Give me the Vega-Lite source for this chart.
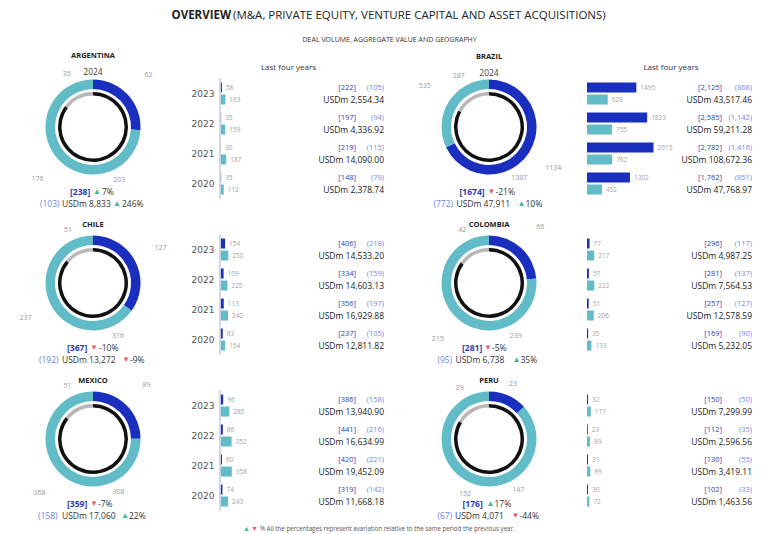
{
"$schema": "https://vega.github.io/schema/vega-lite/v6.json",
"background": "white",
"padding": 0,
"bounds": "flush",
"align": "each",
"columns": 4,
"spacing": 0,
"config": {"view": {"stroke": null}, "font": "Open Sans", "text": {"font": "Open Sans"}},
"datasets": {
"rings": [
{"country":"ARGENTINA","ring":"outer","seg":"o1","value":62},{"country":"ARGENTINA","ring":"outer","seg":"o2","value":176},{"country":"ARGENTINA","ring":"inner","seg":"i1","value":203},{"country":"ARGENTINA","ring":"inner","seg":"i2","value":35},
{"country":"BRAZIL","ring":"outer","seg":"o1","value":1134},{"country":"BRAZIL","ring":"outer","seg":"o2","value":535},{"country":"BRAZIL","ring":"inner","seg":"i1","value":1387},{"country":"BRAZIL","ring":"inner","seg":"i2","value":287},
{"country":"CHILE","ring":"outer","seg":"o1","value":127},{"country":"CHILE","ring":"outer","seg":"o2","value":237},{"country":"CHILE","ring":"inner","seg":"i1","value":316},{"country":"CHILE","ring":"inner","seg":"i2","value":51},
{"country":"COLOMBIA","ring":"outer","seg":"o1","value":66},{"country":"COLOMBIA","ring":"outer","seg":"o2","value":215},{"country":"COLOMBIA","ring":"inner","seg":"i1","value":239},{"country":"COLOMBIA","ring":"inner","seg":"i2","value":42},
{"country":"MEXICO","ring":"outer","seg":"o1","value":89},{"country":"MEXICO","ring":"outer","seg":"o2","value":268},{"country":"MEXICO","ring":"inner","seg":"i1","value":308},{"country":"MEXICO","ring":"inner","seg":"i2","value":51},
{"country":"PERU","ring":"outer","seg":"o1","value":23},{"country":"PERU","ring":"outer","seg":"o2","value":152},{"country":"PERU","ring":"inner","seg":"i1","value":147},{"country":"PERU","ring":"inner","seg":"i2","value":29}
],
"summary": [
{"country":"ARGENTINA","period":"2024","deals":"[238]","dealArrow":"▲","dealPct":"7%","cnt":"(103)","usd":"USDm 8,833","usdArrow":"▲","usdPct":"246%"},
{"country":"BRAZIL","period":"2024","deals":"[1674]","dealArrow":"▼","dealPct":"-21%","cnt":"(772)","usd":"USDm 47,911","usdArrow":"▲","usdPct":"10%"},
{"country":"CHILE","period":"2024","deals":"[367]","dealArrow":"▼","dealPct":"-10%","cnt":"(192)","usd":"USDm 13,272","usdArrow":"▼","usdPct":"-9%"},
{"country":"COLOMBIA","period":"2024","deals":"[281]","dealArrow":"▼","dealPct":"-5%","cnt":"(95)","usd":"USDm 6,738","usdArrow":"▲","usdPct":"35%"},
{"country":"MEXICO","period":"2024","deals":"[359]","dealArrow":"▼","dealPct":"-7%","cnt":"(158)","usd":"USDm 17,060","usdArrow":"▲","usdPct":"22%"},
{"country":"PERU","period":"2024","deals":"[176]","dealArrow":"▲","dealPct":"17%","cnt":"(67)","usd":"USDm 4,071","usdArrow":"▼","usdPct":"-44%"}
],
"bars": [
{"country":"ARGENTINA","year":"2023","series":"A","value":58},{"country":"ARGENTINA","year":"2023","series":"B","value":163},{"country":"ARGENTINA","year":"2022","series":"A","value":35},{"country":"ARGENTINA","year":"2022","series":"B","value":159},{"country":"ARGENTINA","year":"2021","series":"A","value":30},{"country":"ARGENTINA","year":"2021","series":"B","value":187},{"country":"ARGENTINA","year":"2020","series":"A","value":35},{"country":"ARGENTINA","year":"2020","series":"B","value":112},
{"country":"BRAZIL","year":"2023","series":"A","value":1495},{"country":"BRAZIL","year":"2023","series":"B","value":628},{"country":"BRAZIL","year":"2022","series":"A","value":1823},{"country":"BRAZIL","year":"2022","series":"B","value":755},{"country":"BRAZIL","year":"2021","series":"A","value":2015},{"country":"BRAZIL","year":"2021","series":"B","value":762},{"country":"BRAZIL","year":"2020","series":"A","value":1302},{"country":"BRAZIL","year":"2020","series":"B","value":452},
{"country":"CHILE","year":"2023","series":"A","value":154},{"country":"CHILE","year":"2023","series":"B","value":250},{"country":"CHILE","year":"2022","series":"A","value":109},{"country":"CHILE","year":"2022","series":"B","value":225},{"country":"CHILE","year":"2021","series":"A","value":113},{"country":"CHILE","year":"2021","series":"B","value":242},{"country":"CHILE","year":"2020","series":"A","value":83},{"country":"CHILE","year":"2020","series":"B","value":154},
{"country":"COLOMBIA","year":"2023","series":"A","value":77},{"country":"COLOMBIA","year":"2023","series":"B","value":217},{"country":"COLOMBIA","year":"2022","series":"A","value":57},{"country":"COLOMBIA","year":"2022","series":"B","value":222},{"country":"COLOMBIA","year":"2021","series":"A","value":51},{"country":"COLOMBIA","year":"2021","series":"B","value":206},{"country":"COLOMBIA","year":"2020","series":"A","value":35},{"country":"COLOMBIA","year":"2020","series":"B","value":133},
{"country":"MEXICO","year":"2023","series":"A","value":96},{"country":"MEXICO","year":"2023","series":"B","value":285},{"country":"MEXICO","year":"2022","series":"A","value":86},{"country":"MEXICO","year":"2022","series":"B","value":352},{"country":"MEXICO","year":"2021","series":"A","value":60},{"country":"MEXICO","year":"2021","series":"B","value":358},{"country":"MEXICO","year":"2020","series":"A","value":74},{"country":"MEXICO","year":"2020","series":"B","value":243},
{"country":"PERU","year":"2023","series":"A","value":32},{"country":"PERU","year":"2023","series":"B","value":117},{"country":"PERU","year":"2022","series":"A","value":23},{"country":"PERU","year":"2022","series":"B","value":89},{"country":"PERU","year":"2021","series":"A","value":31},{"country":"PERU","year":"2021","series":"B","value":99},{"country":"PERU","year":"2020","series":"A","value":30},{"country":"PERU","year":"2020","series":"B","value":72}
],
"yeartext": [
{"country":"ARGENTINA","year":"2023","deals":"[222]","cnt":"(105)","usd":"USDm 2,554.34"},{"country":"ARGENTINA","year":"2022","deals":"[197]","cnt":"(94)","usd":"USDm 4,336.92"},{"country":"ARGENTINA","year":"2021","deals":"[219]","cnt":"(115)","usd":"USDm 14,090.00"},{"country":"ARGENTINA","year":"2020","deals":"[148]","cnt":"(79)","usd":"USDm 2,378.74"},
{"country":"BRAZIL","year":"2023","deals":"[2,125]","cnt":"(868)","usd":"USDm 43,517.46"},{"country":"BRAZIL","year":"2022","deals":"[2,585]","cnt":"(1,142)","usd":"USDm 59,211.28"},{"country":"BRAZIL","year":"2021","deals":"[2,782]","cnt":"(1,416)","usd":"USDm 108,672.36"},{"country":"BRAZIL","year":"2020","deals":"[1,762]","cnt":"(851)","usd":"USDm 47,768.97"},
{"country":"CHILE","year":"2023","deals":"[406]","cnt":"(218)","usd":"USDm 14,533.20"},{"country":"CHILE","year":"2022","deals":"[334]","cnt":"(159)","usd":"USDm 14,603.13"},{"country":"CHILE","year":"2021","deals":"[356]","cnt":"(197)","usd":"USDm 16,929.88"},{"country":"CHILE","year":"2020","deals":"[237]","cnt":"(105)","usd":"USDm 12,811.82"},
{"country":"COLOMBIA","year":"2023","deals":"[296]","cnt":"(117)","usd":"USDm 4,987.25"},{"country":"COLOMBIA","year":"2022","deals":"[281]","cnt":"(137)","usd":"USDm 7,564.53"},{"country":"COLOMBIA","year":"2021","deals":"[257]","cnt":"(127)","usd":"USDm 12,578.59"},{"country":"COLOMBIA","year":"2020","deals":"[169]","cnt":"(90)","usd":"USDm 5,232.05"},
{"country":"MEXICO","year":"2023","deals":"[386]","cnt":"(158)","usd":"USDm 13,940.90"},{"country":"MEXICO","year":"2022","deals":"[441]","cnt":"(216)","usd":"USDm 16,634.99"},{"country":"MEXICO","year":"2021","deals":"[420]","cnt":"(221)","usd":"USDm 19,452.09"},{"country":"MEXICO","year":"2020","deals":"[319]","cnt":"(142)","usd":"USDm 11,668.18"},
{"country":"PERU","year":"2023","deals":"[150]","cnt":"(50)","usd":"USDm 7,299.99"},{"country":"PERU","year":"2022","deals":"[112]","cnt":"(35)","usd":"USDm 2,596.56"},{"country":"PERU","year":"2021","deals":"[130]","cnt":"(55)","usd":"USDm 3,419.11"},{"country":"PERU","year":"2020","deals":"[102]","cnt":"(33)","usd":"USDm 1,463.56"}
]
},
"concat": [
{"width":186,"height":49,
 "data":{"values":[{"a":"OVERVIEW","b":"(M&A, PRIVATE EQUITY, VENTURE CAPITAL AND ASSET ACQUISITIONS)","c":"DEAL VOLUME, AGGREGATE VALUE AND GEOGRAPHY"}]},
 "layer":[
  {"mark":{"type":"text","align":"right","dx":138,"dy":-8.5,"fontSize":11.5,"fontWeight":"bold","color":"#222222"},"encoding":{"text":{"field":"a"}}},
  {"mark":{"type":"text","align":"left","dx":140,"dy":-8.5,"fontSize":11.5,"color":"#222222"},"encoding":{"text":{"field":"b"}}},
  {"mark":{"type":"text","align":"center","dx":296.6,"dy":15.5,"fontSize":7,"color":"#333333"},"encoding":{"text":{"field":"c"}}}
 ]},
{"width":205,"height":49,"data":{"values":[]},"mark":"text","encoding":{}},
{"width":196,"height":49,"data":{"values":[]},"mark":"text","encoding":{}},
{"width":181,"height":49,"data":{"values":[]},"mark":"text","encoding":{}},

 {"width":186,"height":156,"resolve":{"scale":{"theta":"independent"}},
  "layer":[
   {"data":{"name":"rings"},"transform":[{"filter":"datum.country==='ARGENTINA' && datum.ring==='outer'"}],"mark":{"type":"arc","outerRadius":47.5,"innerRadius":38},"encoding":{"theta":{"field":"value","type":"quantitative","stack":true},"order":{"field":"seg","type":"ordinal"},"color":{"field":"seg","type":"nominal","scale":{"domain":["o1","o2","i1","i2","▲","▼"],"range":["#1b2fbf","#62bcc7","#111111","#b8b8b8","#3dbb8f","#ec5b76"]},"legend":null}}},
   {"data":{"name":"rings"},"transform":[{"filter":"datum.country==='ARGENTINA' && datum.ring==='inner'"}],"mark":{"type":"arc","outerRadius":35,"innerRadius":31.5},"encoding":{"theta":{"field":"value","type":"quantitative","stack":true},"order":{"field":"seg","type":"ordinal"},"color":{"field":"seg","type":"nominal","legend":null}}},
   {"data":{"name":"rings"},"transform":[{"filter":"datum.country==='ARGENTINA' && datum.ring==='outer'"}],"mark":{"type":"text","radius":76,"fontSize":7,"color":"#999999"},"encoding":{"theta":{"field":"value","type":"quantitative","stack":true},"order":{"field":"seg","type":"ordinal"},"detail":{"field":"seg"},"text":{"field":"value","type":"quantitative"}}},
   {"data":{"name":"rings"},"transform":[{"filter":"datum.country==='ARGENTINA' && datum.ring==='inner'"}],"mark":{"type":"text","radius":59,"fontSize":7,"color":"#999999"},"encoding":{"theta":{"field":"value","type":"quantitative","stack":true},"order":{"field":"seg","type":"ordinal"},"detail":{"field":"seg"},"text":{"field":"value","type":"quantitative"}}},
   {"data":{"name":"summary"},"transform":[{"filter":"datum.country==='ARGENTINA'"}],"mark":{"type":"text","dy":-71,"fontSize":7.5,"fontWeight":"bold","color":"#222222"},"encoding":{"text":{"field":"country"}}},
   {"data":{"name":"summary"},"transform":[{"filter":"datum.country==='ARGENTINA'"}],"mark":{"type":"text","dy":-55,"fontSize":8.5,"color":"#444444"},"encoding":{"text":{"field":"period"}}},
   {"data":{"name":"summary"},"transform":[{"filter":"datum.country==='ARGENTINA'"}],"mark":{"type":"text","align":"left","dx":-23,"dy":64.5,"fontSize":8.5,"fontWeight":"bold","color":"#2a3cae"},"encoding":{"text":{"field":"deals"}}},
   {"data":{"name":"summary"},"transform":[{"filter":"datum.country==='ARGENTINA'"}],"mark":{"type":"text","align":"left","dx":0,"dy":64.5,"fontSize":8},"encoding":{"text":{"field":"dealArrow"},"color":{"field":"dealArrow","type":"nominal","legend":null}}},
   {"data":{"name":"summary"},"transform":[{"filter":"datum.country==='ARGENTINA'"}],"mark":{"type":"text","align":"left","dx":9,"dy":64.5,"fontSize":8.5,"color":"#333333"},"encoding":{"text":{"field":"dealPct"}}},
   {"data":{"name":"summary"},"transform":[{"filter":"datum.country==='ARGENTINA'"}],"mark":{"type":"text","align":"left","dx":-53,"dy":77,"fontSize":8.5,"color":"#6d86e2"},"encoding":{"text":{"field":"cnt"}}},
   {"data":{"name":"summary"},"transform":[{"filter":"datum.country==='ARGENTINA'"}],"mark":{"type":"text","align":"left","dx":-31,"dy":77,"fontSize":8.5,"color":"#333333"},"encoding":{"text":{"field":"usd"}}},
   {"data":{"name":"summary"},"transform":[{"filter":"datum.country==='ARGENTINA'"}],"mark":{"type":"text","align":"left","dx":20,"dy":77,"fontSize":8},"encoding":{"text":{"field":"usdArrow"},"color":{"field":"usdArrow","type":"nominal","legend":null}}},
   {"data":{"name":"summary"},"transform":[{"filter":"datum.country==='ARGENTINA'"}],"mark":{"type":"text","align":"left","dx":29,"dy":77,"fontSize":8.5,"color":"#333333"},"encoding":{"text":{"field":"usdPct"}}}
  ]},
 {"width":205,"height":156,
  "layer":[
   {"data":{"name":"bars"},"transform":[{"filter":"datum.country==='ARGENTINA'"}],"mark":{"type":"bar"},"encoding":{"y":{"field":"year","type":"nominal","scale":{"domain":["2023","2022","2021","2020"],"paddingInner":0,"paddingOuter":0.6,"align":0.82},"axis":{"title":null,"domain":false,"ticks":false,"labelPadding":6,"offset":-34,"labelFont":"DejaVu Sans","labelFontSize":9,"labelColor":"#555555"}},"x":{"field":"value","type":"quantitative","scale":{"domain":[-1030,5182],"nice":false,"zero":false},"axis":null},"yOffset":{"field":"series","type":"nominal","scale":{"domain":["A","B"],"paddingInner":0.167,"paddingOuter":0.333}},"color":{"field":"series","type":"nominal","scale":{"domain":["A","B"],"range":["#1b2fbf","#62bcc7"]},"legend":null}}},
   {"data":{"name":"bars"},"transform":[{"filter":"datum.country==='ARGENTINA'"}],"mark":{"type":"text","align":"left","dx":4,"fontSize":6.5,"color":"#a3a3a3"},"encoding":{"y":{"field":"year","type":"nominal"},"x":{"field":"value","type":"quantitative"},"yOffset":{"field":"series","type":"nominal"},"text":{"field":"value","type":"quantitative"}}},
   {"data":{"name":"yeartext"},"transform":[{"filter":"datum.country==='ARGENTINA'"}],"mark":{"type":"rule","color":"#cfd6e6"},"encoding":{"x":{"datum":0},"y":{"datum":"2023","bandPosition":0},"y2":{"datum":"2020","bandPosition":1}}},
   {"data":{"name":"yeartext"},"transform":[{"filter":"datum.country==='ARGENTINA'"}],"mark":{"type":"text","align":"right","dx":-35,"dy":-6,"fontSize":7.5,"color":"#2d3fae"},"encoding":{"y":{"field":"year","type":"nominal"},"x":{"value":"width"},"text":{"field":"deals"}}},
   {"data":{"name":"yeartext"},"transform":[{"filter":"datum.country==='ARGENTINA'"}],"mark":{"type":"text","align":"right","dx":-7,"dy":-6,"fontSize":7.5,"color":"#7189e3"},"encoding":{"y":{"field":"year","type":"nominal"},"x":{"value":"width"},"text":{"field":"cnt"}}},
   {"data":{"name":"yeartext"},"transform":[{"filter":"datum.country==='ARGENTINA'"}],"mark":{"type":"text","align":"right","dx":-7,"dy":6,"fontSize":8.5,"color":"#222222"},"encoding":{"y":{"field":"year","type":"nominal"},"x":{"value":"width"},"text":{"field":"usd"}}},
   {"data":{"values":[{"t":"Last four years"}]},"mark":{"type":"text","dy":-59,"fontSize":8,"color":"#333333"},"encoding":{"text":{"field":"t"}}}
  ]},
 {"width":196,"height":156,"resolve":{"scale":{"theta":"independent"}},
  "layer":[
   {"data":{"name":"rings"},"transform":[{"filter":"datum.country==='BRAZIL' && datum.ring==='outer'"}],"mark":{"type":"arc","outerRadius":47.5,"innerRadius":38},"encoding":{"theta":{"field":"value","type":"quantitative","stack":true},"order":{"field":"seg","type":"ordinal"},"color":{"field":"seg","type":"nominal","scale":{"domain":["o1","o2","i1","i2","▲","▼"],"range":["#1b2fbf","#62bcc7","#111111","#b8b8b8","#3dbb8f","#ec5b76"]},"legend":null}}},
   {"data":{"name":"rings"},"transform":[{"filter":"datum.country==='BRAZIL' && datum.ring==='inner'"}],"mark":{"type":"arc","outerRadius":35,"innerRadius":31.5},"encoding":{"theta":{"field":"value","type":"quantitative","stack":true},"order":{"field":"seg","type":"ordinal"},"color":{"field":"seg","type":"nominal","legend":null}}},
   {"data":{"name":"rings"},"transform":[{"filter":"datum.country==='BRAZIL' && datum.ring==='outer'"}],"mark":{"type":"text","radius":76,"fontSize":7,"color":"#999999"},"encoding":{"theta":{"field":"value","type":"quantitative","stack":true},"order":{"field":"seg","type":"ordinal"},"detail":{"field":"seg"},"text":{"field":"value","type":"quantitative"}}},
   {"data":{"name":"rings"},"transform":[{"filter":"datum.country==='BRAZIL' && datum.ring==='inner'"}],"mark":{"type":"text","radius":59,"fontSize":7,"color":"#999999"},"encoding":{"theta":{"field":"value","type":"quantitative","stack":true},"order":{"field":"seg","type":"ordinal"},"detail":{"field":"seg"},"text":{"field":"value","type":"quantitative"}}},
   {"data":{"name":"summary"},"transform":[{"filter":"datum.country==='BRAZIL'"}],"mark":{"type":"text","dy":-70,"fontSize":7.5,"fontWeight":"bold","color":"#222222"},"encoding":{"text":{"field":"country"}}},
   {"data":{"name":"summary"},"transform":[{"filter":"datum.country==='BRAZIL'"}],"mark":{"type":"text","dy":-54,"fontSize":8.5,"color":"#444444"},"encoding":{"text":{"field":"period"}}},
   {"data":{"name":"summary"},"transform":[{"filter":"datum.country==='BRAZIL'"}],"mark":{"type":"text","align":"left","dx":-29.5,"dy":64.5,"fontSize":8.5,"fontWeight":"bold","color":"#2a3cae"},"encoding":{"text":{"field":"deals"}}},
   {"data":{"name":"summary"},"transform":[{"filter":"datum.country==='BRAZIL'"}],"mark":{"type":"text","align":"left","dx":-1.5,"dy":64.5,"fontSize":8},"encoding":{"text":{"field":"dealArrow"},"color":{"field":"dealArrow","type":"nominal","legend":null}}},
   {"data":{"name":"summary"},"transform":[{"filter":"datum.country==='BRAZIL'"}],"mark":{"type":"text","align":"left","dx":6.5,"dy":64.5,"fontSize":8.5,"color":"#333333"},"encoding":{"text":{"field":"dealPct"}}},
   {"data":{"name":"summary"},"transform":[{"filter":"datum.country==='BRAZIL'"}],"mark":{"type":"text","align":"left","dx":-55.5,"dy":77,"fontSize":8.5,"color":"#6d86e2"},"encoding":{"text":{"field":"cnt"}}},
   {"data":{"name":"summary"},"transform":[{"filter":"datum.country==='BRAZIL'"}],"mark":{"type":"text","align":"left","dx":-32.5,"dy":77,"fontSize":8.5,"color":"#333333"},"encoding":{"text":{"field":"usd"}}},
   {"data":{"name":"summary"},"transform":[{"filter":"datum.country==='BRAZIL'"}],"mark":{"type":"text","align":"left","dx":28.5,"dy":77,"fontSize":8},"encoding":{"text":{"field":"usdArrow"},"color":{"field":"usdArrow","type":"nominal","legend":null}}},
   {"data":{"name":"summary"},"transform":[{"filter":"datum.country==='BRAZIL'"}],"mark":{"type":"text","align":"left","dx":36.5,"dy":77,"fontSize":8.5,"color":"#333333"},"encoding":{"text":{"field":"usdPct"}}}
  ]},
 {"width":181,"height":156,
  "layer":[
   {"data":{"name":"bars"},"transform":[{"filter":"datum.country==='BRAZIL'"}],"mark":{"type":"bar"},"encoding":{"y":{"field":"year","type":"nominal","scale":{"domain":["2023","2022","2021","2020"],"paddingInner":0,"paddingOuter":0.6,"align":0.82},"axis":null},"x":{"field":"value","type":"quantitative","scale":{"domain":[0,5485],"nice":false,"zero":false},"axis":null},"yOffset":{"field":"series","type":"nominal","scale":{"domain":["A","B"],"paddingInner":0.167,"paddingOuter":0.333}},"color":{"field":"series","type":"nominal","scale":{"domain":["A","B"],"range":["#1b2fbf","#62bcc7"]},"legend":null}}},
   {"data":{"name":"bars"},"transform":[{"filter":"datum.country==='BRAZIL'"}],"mark":{"type":"text","align":"left","dx":4,"fontSize":6.5,"color":"#a3a3a3"},"encoding":{"y":{"field":"year","type":"nominal"},"x":{"field":"value","type":"quantitative"},"yOffset":{"field":"series","type":"nominal"},"text":{"field":"value","type":"quantitative"}}},
   {"data":{"name":"yeartext"},"transform":[{"filter":"datum.country==='BRAZIL'"}],"mark":{"type":"text","align":"right","dx":-46,"dy":-6,"fontSize":7.5,"color":"#2d3fae"},"encoding":{"y":{"field":"year","type":"nominal"},"x":{"value":"width"},"text":{"field":"deals"}}},
   {"data":{"name":"yeartext"},"transform":[{"filter":"datum.country==='BRAZIL'"}],"mark":{"type":"text","align":"right","dx":-16,"dy":-6,"fontSize":7.5,"color":"#7189e3"},"encoding":{"y":{"field":"year","type":"nominal"},"x":{"value":"width"},"text":{"field":"cnt"}}},
   {"data":{"name":"yeartext"},"transform":[{"filter":"datum.country==='BRAZIL'"}],"mark":{"type":"text","align":"right","dx":-16,"dy":6,"fontSize":8.5,"color":"#222222"},"encoding":{"y":{"field":"year","type":"nominal"},"x":{"value":"width"},"text":{"field":"usd"}}},
   {"data":{"values":[{"t":"Last four years"}]},"mark":{"type":"text","dx":-6.5,"dy":-59,"fontSize":8,"color":"#333333"},"encoding":{"text":{"field":"t"}}}
  ]},

 {"width":186,"height":156,"resolve":{"scale":{"theta":"independent"}},
  "layer":[
   {"data":{"name":"rings"},"transform":[{"filter":"datum.country==='CHILE' && datum.ring==='outer'"}],"mark":{"type":"arc","outerRadius":47.5,"innerRadius":38},"encoding":{"theta":{"field":"value","type":"quantitative","stack":true},"order":{"field":"seg","type":"ordinal"},"color":{"field":"seg","type":"nominal","scale":{"domain":["o1","o2","i1","i2","▲","▼"],"range":["#1b2fbf","#62bcc7","#111111","#b8b8b8","#3dbb8f","#ec5b76"]},"legend":null}}},
   {"data":{"name":"rings"},"transform":[{"filter":"datum.country==='CHILE' && datum.ring==='inner'"}],"mark":{"type":"arc","outerRadius":35,"innerRadius":31.5},"encoding":{"theta":{"field":"value","type":"quantitative","stack":true},"order":{"field":"seg","type":"ordinal"},"color":{"field":"seg","type":"nominal","legend":null}}},
   {"data":{"name":"rings"},"transform":[{"filter":"datum.country==='CHILE' && datum.ring==='outer'"}],"mark":{"type":"text","radius":76,"fontSize":7,"color":"#999999"},"encoding":{"theta":{"field":"value","type":"quantitative","stack":true},"order":{"field":"seg","type":"ordinal"},"detail":{"field":"seg"},"text":{"field":"value","type":"quantitative"}}},
   {"data":{"name":"rings"},"transform":[{"filter":"datum.country==='CHILE' && datum.ring==='inner'"}],"mark":{"type":"text","radius":59,"fontSize":7,"color":"#999999"},"encoding":{"theta":{"field":"value","type":"quantitative","stack":true},"order":{"field":"seg","type":"ordinal"},"detail":{"field":"seg"},"text":{"field":"value","type":"quantitative"}}},
   {"data":{"name":"summary"},"transform":[{"filter":"datum.country==='CHILE'"}],"mark":{"type":"text","dy":-58,"fontSize":7.5,"fontWeight":"bold","color":"#222222"},"encoding":{"text":{"field":"country"}}},
   {"data":{"name":"summary"},"transform":[{"filter":"datum.country==='CHILE'"}],"mark":{"type":"text","align":"left","dx":-26,"dy":64.5,"fontSize":8.5,"fontWeight":"bold","color":"#2a3cae"},"encoding":{"text":{"field":"deals"}}},
   {"data":{"name":"summary"},"transform":[{"filter":"datum.country==='CHILE'"}],"mark":{"type":"text","align":"left","dx":-3,"dy":64.5,"fontSize":8},"encoding":{"text":{"field":"dealArrow"},"color":{"field":"dealArrow","type":"nominal","legend":null}}},
   {"data":{"name":"summary"},"transform":[{"filter":"datum.country==='CHILE'"}],"mark":{"type":"text","align":"left","dx":6,"dy":64.5,"fontSize":8.5,"color":"#333333"},"encoding":{"text":{"field":"dealPct"}}},
   {"data":{"name":"summary"},"transform":[{"filter":"datum.country==='CHILE'"}],"mark":{"type":"text","align":"left","dx":-54,"dy":77,"fontSize":8.5,"color":"#6d86e2"},"encoding":{"text":{"field":"cnt"}}},
   {"data":{"name":"summary"},"transform":[{"filter":"datum.country==='CHILE'"}],"mark":{"type":"text","align":"left","dx":-31,"dy":77,"fontSize":8.5,"color":"#333333"},"encoding":{"text":{"field":"usd"}}},
   {"data":{"name":"summary"},"transform":[{"filter":"datum.country==='CHILE'"}],"mark":{"type":"text","align":"left","dx":29,"dy":77,"fontSize":8},"encoding":{"text":{"field":"usdArrow"},"color":{"field":"usdArrow","type":"nominal","legend":null}}},
   {"data":{"name":"summary"},"transform":[{"filter":"datum.country==='CHILE'"}],"mark":{"type":"text","align":"left","dx":37,"dy":77,"fontSize":8.5,"color":"#333333"},"encoding":{"text":{"field":"usdPct"}}}
  ]},
 {"width":205,"height":156,
  "layer":[
   {"data":{"name":"bars"},"transform":[{"filter":"datum.country==='CHILE'"}],"mark":{"type":"bar"},"encoding":{"y":{"field":"year","type":"nominal","scale":{"domain":["2023","2022","2021","2020"],"paddingInner":0,"paddingOuter":0.6,"align":0.82},"axis":{"title":null,"domain":false,"ticks":false,"labelPadding":6,"offset":-34,"labelFont":"DejaVu Sans","labelFontSize":9,"labelColor":"#555555"}},"x":{"field":"value","type":"quantitative","scale":{"domain":[-1030,5182],"nice":false,"zero":false},"axis":null},"yOffset":{"field":"series","type":"nominal","scale":{"domain":["A","B"],"paddingInner":0.167,"paddingOuter":0.333}},"color":{"field":"series","type":"nominal","scale":{"domain":["A","B"],"range":["#1b2fbf","#62bcc7"]},"legend":null}}},
   {"data":{"name":"bars"},"transform":[{"filter":"datum.country==='CHILE'"}],"mark":{"type":"text","align":"left","dx":4,"fontSize":6.5,"color":"#a3a3a3"},"encoding":{"y":{"field":"year","type":"nominal"},"x":{"field":"value","type":"quantitative"},"yOffset":{"field":"series","type":"nominal"},"text":{"field":"value","type":"quantitative"}}},
   {"data":{"name":"yeartext"},"transform":[{"filter":"datum.country==='CHILE'"}],"mark":{"type":"rule","color":"#cfd6e6"},"encoding":{"x":{"datum":0},"y":{"datum":"2023","bandPosition":0},"y2":{"datum":"2020","bandPosition":1}}},
   {"data":{"name":"yeartext"},"transform":[{"filter":"datum.country==='CHILE'"}],"mark":{"type":"text","align":"right","dx":-35,"dy":-6,"fontSize":7.5,"color":"#2d3fae"},"encoding":{"y":{"field":"year","type":"nominal"},"x":{"value":"width"},"text":{"field":"deals"}}},
   {"data":{"name":"yeartext"},"transform":[{"filter":"datum.country==='CHILE'"}],"mark":{"type":"text","align":"right","dx":-7,"dy":-6,"fontSize":7.5,"color":"#7189e3"},"encoding":{"y":{"field":"year","type":"nominal"},"x":{"value":"width"},"text":{"field":"cnt"}}},
   {"data":{"name":"yeartext"},"transform":[{"filter":"datum.country==='CHILE'"}],"mark":{"type":"text","align":"right","dx":-7,"dy":6,"fontSize":8.5,"color":"#222222"},"encoding":{"y":{"field":"year","type":"nominal"},"x":{"value":"width"},"text":{"field":"usd"}}}
  ]},
 {"width":196,"height":156,"resolve":{"scale":{"theta":"independent"}},
  "layer":[
   {"data":{"name":"rings"},"transform":[{"filter":"datum.country==='COLOMBIA' && datum.ring==='outer'"}],"mark":{"type":"arc","outerRadius":47.5,"innerRadius":38},"encoding":{"theta":{"field":"value","type":"quantitative","stack":true},"order":{"field":"seg","type":"ordinal"},"color":{"field":"seg","type":"nominal","scale":{"domain":["o1","o2","i1","i2","▲","▼"],"range":["#1b2fbf","#62bcc7","#111111","#b8b8b8","#3dbb8f","#ec5b76"]},"legend":null}}},
   {"data":{"name":"rings"},"transform":[{"filter":"datum.country==='COLOMBIA' && datum.ring==='inner'"}],"mark":{"type":"arc","outerRadius":35,"innerRadius":31.5},"encoding":{"theta":{"field":"value","type":"quantitative","stack":true},"order":{"field":"seg","type":"ordinal"},"color":{"field":"seg","type":"nominal","legend":null}}},
   {"data":{"name":"rings"},"transform":[{"filter":"datum.country==='COLOMBIA' && datum.ring==='outer'"}],"mark":{"type":"text","radius":76,"fontSize":7,"color":"#999999"},"encoding":{"theta":{"field":"value","type":"quantitative","stack":true},"order":{"field":"seg","type":"ordinal"},"detail":{"field":"seg"},"text":{"field":"value","type":"quantitative"}}},
   {"data":{"name":"rings"},"transform":[{"filter":"datum.country==='COLOMBIA' && datum.ring==='inner'"}],"mark":{"type":"text","radius":59,"fontSize":7,"color":"#999999"},"encoding":{"theta":{"field":"value","type":"quantitative","stack":true},"order":{"field":"seg","type":"ordinal"},"detail":{"field":"seg"},"text":{"field":"value","type":"quantitative"}}},
   {"data":{"name":"summary"},"transform":[{"filter":"datum.country==='COLOMBIA'"}],"mark":{"type":"text","dy":-58.5,"fontSize":7.5,"fontWeight":"bold","color":"#222222"},"encoding":{"text":{"field":"country"}}},
   {"data":{"name":"summary"},"transform":[{"filter":"datum.country==='COLOMBIA'"}],"mark":{"type":"text","align":"left","dx":-27,"dy":64.5,"fontSize":8.5,"fontWeight":"bold","color":"#2a3cae"},"encoding":{"text":{"field":"deals"}}},
   {"data":{"name":"summary"},"transform":[{"filter":"datum.country==='COLOMBIA'"}],"mark":{"type":"text","align":"left","dx":-5,"dy":64.5,"fontSize":8},"encoding":{"text":{"field":"dealArrow"},"color":{"field":"dealArrow","type":"nominal","legend":null}}},
   {"data":{"name":"summary"},"transform":[{"filter":"datum.country==='COLOMBIA'"}],"mark":{"type":"text","align":"left","dx":3,"dy":64.5,"fontSize":8.5,"color":"#333333"},"encoding":{"text":{"field":"dealPct"}}},
   {"data":{"name":"summary"},"transform":[{"filter":"datum.country==='COLOMBIA'"}],"mark":{"type":"text","align":"left","dx":-51.5,"dy":77,"fontSize":8.5,"color":"#6d86e2"},"encoding":{"text":{"field":"cnt"}}},
   {"data":{"name":"summary"},"transform":[{"filter":"datum.country==='COLOMBIA'"}],"mark":{"type":"text","align":"left","dx":-33.5,"dy":77,"fontSize":8.5,"color":"#333333"},"encoding":{"text":{"field":"usd"}}},
   {"data":{"name":"summary"},"transform":[{"filter":"datum.country==='COLOMBIA'"}],"mark":{"type":"text","align":"left","dx":23.5,"dy":77,"fontSize":8},"encoding":{"text":{"field":"usdArrow"},"color":{"field":"usdArrow","type":"nominal","legend":null}}},
   {"data":{"name":"summary"},"transform":[{"filter":"datum.country==='COLOMBIA'"}],"mark":{"type":"text","align":"left","dx":31.5,"dy":77,"fontSize":8.5,"color":"#333333"},"encoding":{"text":{"field":"usdPct"}}}
  ]},
 {"width":181,"height":156,
  "layer":[
   {"data":{"name":"bars"},"transform":[{"filter":"datum.country==='COLOMBIA'"}],"mark":{"type":"bar"},"encoding":{"y":{"field":"year","type":"nominal","scale":{"domain":["2023","2022","2021","2020"],"paddingInner":0,"paddingOuter":0.6,"align":0.82},"axis":null},"x":{"field":"value","type":"quantitative","scale":{"domain":[0,5485],"nice":false,"zero":false},"axis":null},"yOffset":{"field":"series","type":"nominal","scale":{"domain":["A","B"],"paddingInner":0.167,"paddingOuter":0.333}},"color":{"field":"series","type":"nominal","scale":{"domain":["A","B"],"range":["#1b2fbf","#62bcc7"]},"legend":null}}},
   {"data":{"name":"bars"},"transform":[{"filter":"datum.country==='COLOMBIA'"}],"mark":{"type":"text","align":"left","dx":4,"fontSize":6.5,"color":"#a3a3a3"},"encoding":{"y":{"field":"year","type":"nominal"},"x":{"field":"value","type":"quantitative"},"yOffset":{"field":"series","type":"nominal"},"text":{"field":"value","type":"quantitative"}}},
   {"data":{"name":"yeartext"},"transform":[{"filter":"datum.country==='COLOMBIA'"}],"mark":{"type":"text","align":"right","dx":-46,"dy":-6,"fontSize":7.5,"color":"#2d3fae"},"encoding":{"y":{"field":"year","type":"nominal"},"x":{"value":"width"},"text":{"field":"deals"}}},
   {"data":{"name":"yeartext"},"transform":[{"filter":"datum.country==='COLOMBIA'"}],"mark":{"type":"text","align":"right","dx":-16,"dy":-6,"fontSize":7.5,"color":"#7189e3"},"encoding":{"y":{"field":"year","type":"nominal"},"x":{"value":"width"},"text":{"field":"cnt"}}},
   {"data":{"name":"yeartext"},"transform":[{"filter":"datum.country==='COLOMBIA'"}],"mark":{"type":"text","align":"right","dx":-16,"dy":6,"fontSize":8.5,"color":"#222222"},"encoding":{"y":{"field":"year","type":"nominal"},"x":{"value":"width"},"text":{"field":"usd"}}}
  ]},

 {"width":186,"height":156,"resolve":{"scale":{"theta":"independent"}},
  "layer":[
   {"data":{"name":"rings"},"transform":[{"filter":"datum.country==='MEXICO' && datum.ring==='outer'"}],"mark":{"type":"arc","outerRadius":47.5,"innerRadius":38},"encoding":{"theta":{"field":"value","type":"quantitative","stack":true},"order":{"field":"seg","type":"ordinal"},"color":{"field":"seg","type":"nominal","scale":{"domain":["o1","o2","i1","i2","▲","▼"],"range":["#1b2fbf","#62bcc7","#111111","#b8b8b8","#3dbb8f","#ec5b76"]},"legend":null}}},
   {"data":{"name":"rings"},"transform":[{"filter":"datum.country==='MEXICO' && datum.ring==='inner'"}],"mark":{"type":"arc","outerRadius":35,"innerRadius":31.5},"encoding":{"theta":{"field":"value","type":"quantitative","stack":true},"order":{"field":"seg","type":"ordinal"},"color":{"field":"seg","type":"nominal","legend":null}}},
   {"data":{"name":"rings"},"transform":[{"filter":"datum.country==='MEXICO' && datum.ring==='outer'"}],"mark":{"type":"text","radius":76,"fontSize":7,"color":"#999999"},"encoding":{"theta":{"field":"value","type":"quantitative","stack":true},"order":{"field":"seg","type":"ordinal"},"detail":{"field":"seg"},"text":{"field":"value","type":"quantitative"}}},
   {"data":{"name":"rings"},"transform":[{"filter":"datum.country==='MEXICO' && datum.ring==='inner'"}],"mark":{"type":"text","radius":59,"fontSize":7,"color":"#999999"},"encoding":{"theta":{"field":"value","type":"quantitative","stack":true},"order":{"field":"seg","type":"ordinal"},"detail":{"field":"seg"},"text":{"field":"value","type":"quantitative"}}},
   {"data":{"name":"summary"},"transform":[{"filter":"datum.country==='MEXICO'"}],"mark":{"type":"text","dy":-58,"fontSize":7.5,"fontWeight":"bold","color":"#222222"},"encoding":{"text":{"field":"country"}}},
   {"data":{"name":"summary"},"transform":[{"filter":"datum.country==='MEXICO'"}],"mark":{"type":"text","align":"left","dx":-26,"dy":64.5,"fontSize":8.5,"fontWeight":"bold","color":"#2a3cae"},"encoding":{"text":{"field":"deals"}}},
   {"data":{"name":"summary"},"transform":[{"filter":"datum.country==='MEXICO'"}],"mark":{"type":"text","align":"left","dx":-3,"dy":64.5,"fontSize":8},"encoding":{"text":{"field":"dealArrow"},"color":{"field":"dealArrow","type":"nominal","legend":null}}},
   {"data":{"name":"summary"},"transform":[{"filter":"datum.country==='MEXICO'"}],"mark":{"type":"text","align":"left","dx":5,"dy":64.5,"fontSize":8.5,"color":"#333333"},"encoding":{"text":{"field":"dealPct"}}},
   {"data":{"name":"summary"},"transform":[{"filter":"datum.country==='MEXICO'"}],"mark":{"type":"text","align":"left","dx":-55,"dy":77,"fontSize":8.5,"color":"#6d86e2"},"encoding":{"text":{"field":"cnt"}}},
   {"data":{"name":"summary"},"transform":[{"filter":"datum.country==='MEXICO'"}],"mark":{"type":"text","align":"left","dx":-31,"dy":77,"fontSize":8.5,"color":"#333333"},"encoding":{"text":{"field":"usd"}}},
   {"data":{"name":"summary"},"transform":[{"filter":"datum.country==='MEXICO'"}],"mark":{"type":"text","align":"left","dx":28,"dy":77,"fontSize":8},"encoding":{"text":{"field":"usdArrow"},"color":{"field":"usdArrow","type":"nominal","legend":null}}},
   {"data":{"name":"summary"},"transform":[{"filter":"datum.country==='MEXICO'"}],"mark":{"type":"text","align":"left","dx":36,"dy":77,"fontSize":8.5,"color":"#333333"},"encoding":{"text":{"field":"usdPct"}}}
  ]},
 {"width":205,"height":156,
  "layer":[
   {"data":{"name":"bars"},"transform":[{"filter":"datum.country==='MEXICO'"}],"mark":{"type":"bar"},"encoding":{"y":{"field":"year","type":"nominal","scale":{"domain":["2023","2022","2021","2020"],"paddingInner":0,"paddingOuter":0.6,"align":0.82},"axis":{"title":null,"domain":false,"ticks":false,"labelPadding":6,"offset":-34,"labelFont":"DejaVu Sans","labelFontSize":9,"labelColor":"#555555"}},"x":{"field":"value","type":"quantitative","scale":{"domain":[-1030,5182],"nice":false,"zero":false},"axis":null},"yOffset":{"field":"series","type":"nominal","scale":{"domain":["A","B"],"paddingInner":0.167,"paddingOuter":0.333}},"color":{"field":"series","type":"nominal","scale":{"domain":["A","B"],"range":["#1b2fbf","#62bcc7"]},"legend":null}}},
   {"data":{"name":"bars"},"transform":[{"filter":"datum.country==='MEXICO'"}],"mark":{"type":"text","align":"left","dx":4,"fontSize":6.5,"color":"#a3a3a3"},"encoding":{"y":{"field":"year","type":"nominal"},"x":{"field":"value","type":"quantitative"},"yOffset":{"field":"series","type":"nominal"},"text":{"field":"value","type":"quantitative"}}},
   {"data":{"name":"yeartext"},"transform":[{"filter":"datum.country==='MEXICO'"}],"mark":{"type":"rule","color":"#cfd6e6"},"encoding":{"x":{"datum":0},"y":{"datum":"2023","bandPosition":0},"y2":{"datum":"2020","bandPosition":1}}},
   {"data":{"name":"yeartext"},"transform":[{"filter":"datum.country==='MEXICO'"}],"mark":{"type":"text","align":"right","dx":-35,"dy":-6,"fontSize":7.5,"color":"#2d3fae"},"encoding":{"y":{"field":"year","type":"nominal"},"x":{"value":"width"},"text":{"field":"deals"}}},
   {"data":{"name":"yeartext"},"transform":[{"filter":"datum.country==='MEXICO'"}],"mark":{"type":"text","align":"right","dx":-7,"dy":-6,"fontSize":7.5,"color":"#7189e3"},"encoding":{"y":{"field":"year","type":"nominal"},"x":{"value":"width"},"text":{"field":"cnt"}}},
   {"data":{"name":"yeartext"},"transform":[{"filter":"datum.country==='MEXICO'"}],"mark":{"type":"text","align":"right","dx":-7,"dy":6,"fontSize":8.5,"color":"#222222"},"encoding":{"y":{"field":"year","type":"nominal"},"x":{"value":"width"},"text":{"field":"usd"}}}
  ]},
 {"width":196,"height":156,"resolve":{"scale":{"theta":"independent"}},
  "layer":[
   {"data":{"name":"rings"},"transform":[{"filter":"datum.country==='PERU' && datum.ring==='outer'"}],"mark":{"type":"arc","outerRadius":47.5,"innerRadius":38},"encoding":{"theta":{"field":"value","type":"quantitative","stack":true},"order":{"field":"seg","type":"ordinal"},"color":{"field":"seg","type":"nominal","scale":{"domain":["o1","o2","i1","i2","▲","▼"],"range":["#1b2fbf","#62bcc7","#111111","#b8b8b8","#3dbb8f","#ec5b76"]},"legend":null}}},
   {"data":{"name":"rings"},"transform":[{"filter":"datum.country==='PERU' && datum.ring==='inner'"}],"mark":{"type":"arc","outerRadius":35,"innerRadius":31.5},"encoding":{"theta":{"field":"value","type":"quantitative","stack":true},"order":{"field":"seg","type":"ordinal"},"color":{"field":"seg","type":"nominal","legend":null}}},
   {"data":{"name":"rings"},"transform":[{"filter":"datum.country==='PERU' && datum.ring==='outer'"}],"mark":{"type":"text","radius":60,"fontSize":7,"color":"#999999"},"encoding":{"theta":{"field":"value","type":"quantitative","stack":true},"order":{"field":"seg","type":"ordinal"},"detail":{"field":"seg"},"text":{"field":"value","type":"quantitative"}}},
   {"data":{"name":"rings"},"transform":[{"filter":"datum.country==='PERU' && datum.ring==='inner'"}],"mark":{"type":"text","radius":59,"fontSize":7,"color":"#999999"},"encoding":{"theta":{"field":"value","type":"quantitative","stack":true},"order":{"field":"seg","type":"ordinal"},"detail":{"field":"seg"},"text":{"field":"value","type":"quantitative"}}},
   {"data":{"name":"summary"},"transform":[{"filter":"datum.country==='PERU'"}],"mark":{"type":"text","dy":-58,"fontSize":7.5,"fontWeight":"bold","color":"#222222"},"encoding":{"text":{"field":"country"}}},
   {"data":{"name":"summary"},"transform":[{"filter":"datum.country==='PERU'"}],"mark":{"type":"text","align":"left","dx":-26.5,"dy":64.5,"fontSize":8.5,"fontWeight":"bold","color":"#2a3cae"},"encoding":{"text":{"field":"deals"}}},
   {"data":{"name":"summary"},"transform":[{"filter":"datum.country==='PERU'"}],"mark":{"type":"text","align":"left","dx":-2.5,"dy":64.5,"fontSize":8},"encoding":{"text":{"field":"dealArrow"},"color":{"field":"dealArrow","type":"nominal","legend":null}}},
   {"data":{"name":"summary"},"transform":[{"filter":"datum.country==='PERU'"}],"mark":{"type":"text","align":"left","dx":5.5,"dy":64.5,"fontSize":8.5,"color":"#333333"},"encoding":{"text":{"field":"dealPct"}}},
   {"data":{"name":"summary"},"transform":[{"filter":"datum.country==='PERU'"}],"mark":{"type":"text","align":"left","dx":-51.5,"dy":77,"fontSize":8.5,"color":"#6d86e2"},"encoding":{"text":{"field":"cnt"}}},
   {"data":{"name":"summary"},"transform":[{"filter":"datum.country==='PERU'"}],"mark":{"type":"text","align":"left","dx":-34,"dy":77,"fontSize":8.5,"color":"#333333"},"encoding":{"text":{"field":"usd"}}},
   {"data":{"name":"summary"},"transform":[{"filter":"datum.country==='PERU'"}],"mark":{"type":"text","align":"left","dx":22.5,"dy":77,"fontSize":8},"encoding":{"text":{"field":"usdArrow"},"color":{"field":"usdArrow","type":"nominal","legend":null}}},
   {"data":{"name":"summary"},"transform":[{"filter":"datum.country==='PERU'"}],"mark":{"type":"text","align":"left","dx":30.5,"dy":77,"fontSize":8.5,"color":"#333333"},"encoding":{"text":{"field":"usdPct"}}}
  ]},
 {"width":181,"height":156,
  "layer":[
   {"data":{"name":"bars"},"transform":[{"filter":"datum.country==='PERU'"}],"mark":{"type":"bar"},"encoding":{"y":{"field":"year","type":"nominal","scale":{"domain":["2023","2022","2021","2020"],"paddingInner":0,"paddingOuter":0.6,"align":0.82},"axis":null},"x":{"field":"value","type":"quantitative","scale":{"domain":[0,5485],"nice":false,"zero":false},"axis":null},"yOffset":{"field":"series","type":"nominal","scale":{"domain":["A","B"],"paddingInner":0.167,"paddingOuter":0.333}},"color":{"field":"series","type":"nominal","scale":{"domain":["A","B"],"range":["#1b2fbf","#62bcc7"]},"legend":null}}},
   {"data":{"name":"bars"},"transform":[{"filter":"datum.country==='PERU'"}],"mark":{"type":"text","align":"left","dx":4,"fontSize":6.5,"color":"#a3a3a3"},"encoding":{"y":{"field":"year","type":"nominal"},"x":{"field":"value","type":"quantitative"},"yOffset":{"field":"series","type":"nominal"},"text":{"field":"value","type":"quantitative"}}},
   {"data":{"name":"yeartext"},"transform":[{"filter":"datum.country==='PERU'"}],"mark":{"type":"text","align":"right","dx":-46,"dy":-6,"fontSize":7.5,"color":"#2d3fae"},"encoding":{"y":{"field":"year","type":"nominal"},"x":{"value":"width"},"text":{"field":"deals"}}},
   {"data":{"name":"yeartext"},"transform":[{"filter":"datum.country==='PERU'"}],"mark":{"type":"text","align":"right","dx":-16,"dy":-6,"fontSize":7.5,"color":"#7189e3"},"encoding":{"y":{"field":"year","type":"nominal"},"x":{"value":"width"},"text":{"field":"cnt"}}},
   {"data":{"name":"yeartext"},"transform":[{"filter":"datum.country==='PERU'"}],"mark":{"type":"text","align":"right","dx":-16,"dy":6,"fontSize":8.5,"color":"#222222"},"encoding":{"y":{"field":"year","type":"nominal"},"x":{"value":"width"},"text":{"field":"usd"}}}
  ]},

{"width":186,"height":17,
 "data":{"values":[{"u":"▲","d":"▼","t":"% All the percentages represent avariation relative to the same period the previous year."}]},
 "layer":[
  {"mark":{"type":"text","align":"left","dx":150,"dy":3.5,"fontSize":7,"color":"#3dbb8f"},"encoding":{"text":{"field":"u"}}},
  {"mark":{"type":"text","align":"left","dx":158,"dy":3.5,"fontSize":7,"color":"#ec5b76"},"encoding":{"text":{"field":"d"}}},
  {"mark":{"type":"text","align":"left","dx":167,"dy":3.5,"fontSize":6.2,"color":"#555555"},"encoding":{"text":{"field":"t"}}}
 ]},
{"width":205,"height":17,"data":{"values":[]},"mark":"text","encoding":{}},
{"width":196,"height":17,"data":{"values":[]},"mark":"text","encoding":{}},
{"width":181,"height":17,"data":{"values":[]},"mark":"text","encoding":{}}
]
}
